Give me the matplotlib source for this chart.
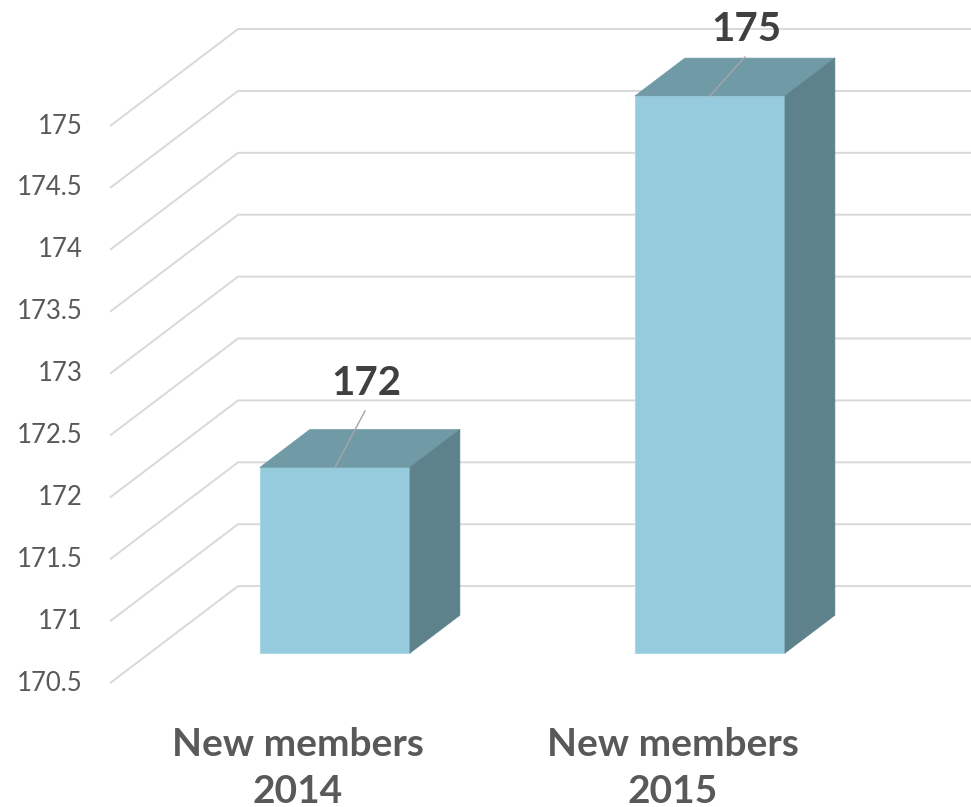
import numpy as np
import matplotlib.pyplot as plt
from matplotlib.patches import Polygon

# ---------- DADOS ----------
categories = ["New members\n2014", "New members\n2015"]
values = [172, 175]
y_ticks = np.arange(170.5, 175.01, 0.5)
y_base = 170.5

# ---------- ESTILO ----------
plt.rcParams['font.family'] = ['Lato', 'DejaVu Sans']
c_front = "#95CBDD"
c_top = "#6F9AA6"
c_side = "#5E828B"
c_grid = "#D9D9D9"
c_tick = "#595959"
c_label = "#404040"

# projecao obliqua (unidades de dados): deslocamento da parede do fundo
DX, DY = 0.3413, 0.7835
wall_left = -0.494
bar_w = 0.40
d_front, d_len = 0.31, 0.39          # posicao e profundidade das barras

fig = plt.figure(figsize=(9.71, 8.07), dpi=100)
ax = fig.add_axes([0, 0, 1, 1])
ax.set_xlim(-0.7875, 1.8019)
ax.set_ylim(169.499, 176.018)
ax.axis("off")

# ---------- GRADE (chao lateral + parede do fundo) ----------
for v in y_ticks:
    ax.plot([wall_left, wall_left + DX, 2.0], [v, v + DY, v + DY],
            color=c_grid, lw=1.4, zorder=1, solid_capstyle="butt")
    ax.text(wall_left - 0.072, v, f"{v:g}", ha="right", va="center",
            fontsize=18.5, color=c_tick)

# ---------- BARRAS 3D ----------
label_dx = [0.083, 0.096]
label_dy = [0.585, 0.444]
for i, v in enumerate(values):
    ox, oy = d_front * DX, d_front * DY
    bx, by = d_len * DX, d_len * DY
    x0, x1 = i - bar_w / 2 + ox, i + bar_w / 2 + ox
    y0, y1 = y_base + oy, v + oy

    front = Polygon([(x0, y0), (x1, y0), (x1, y1), (x0, y1)], closed=True,
                    facecolor=c_front, edgecolor="#A9D8E6", lw=0.8, zorder=3)
    top = Polygon([(x0, y1), (x1, y1), (x1 + bx, y1 + by), (x0 + bx, y1 + by)],
                  closed=True, facecolor=c_top, edgecolor=c_top, lw=0.5, zorder=3)
    side = Polygon([(x1, y0), (x1 + bx, y0 + by), (x1 + bx, y1 + by), (x1, y1)],
                   closed=True, facecolor=c_side, edgecolor=c_side, lw=0.5, zorder=3)
    for p in (front, top, side):
        ax.add_patch(p)

    # rotulo de dados com linha guia
    xc = i + ox
    lx, ly = xc + label_dx[i], y1 + label_dy[i]
    ax.plot([xc, lx - 0.003], [y1, ly - 0.13], color="#A6A6A6", lw=1.0, zorder=4)
    ax.text(lx, ly, f"{v}", ha="center", va="baseline", fontsize=29,
            fontweight="bold", color=c_label, zorder=5)

# ---------- RÓTULOS DAS CATEGORIAS ----------
for i, cat in enumerate(categories):
    ax.text(i + 0.007, 169.532, cat, ha="center", va="baseline", fontsize=28,
            fontweight="bold", color=c_tick, linespacing=1.42)

fig.savefig("out.png", dpi=100)
